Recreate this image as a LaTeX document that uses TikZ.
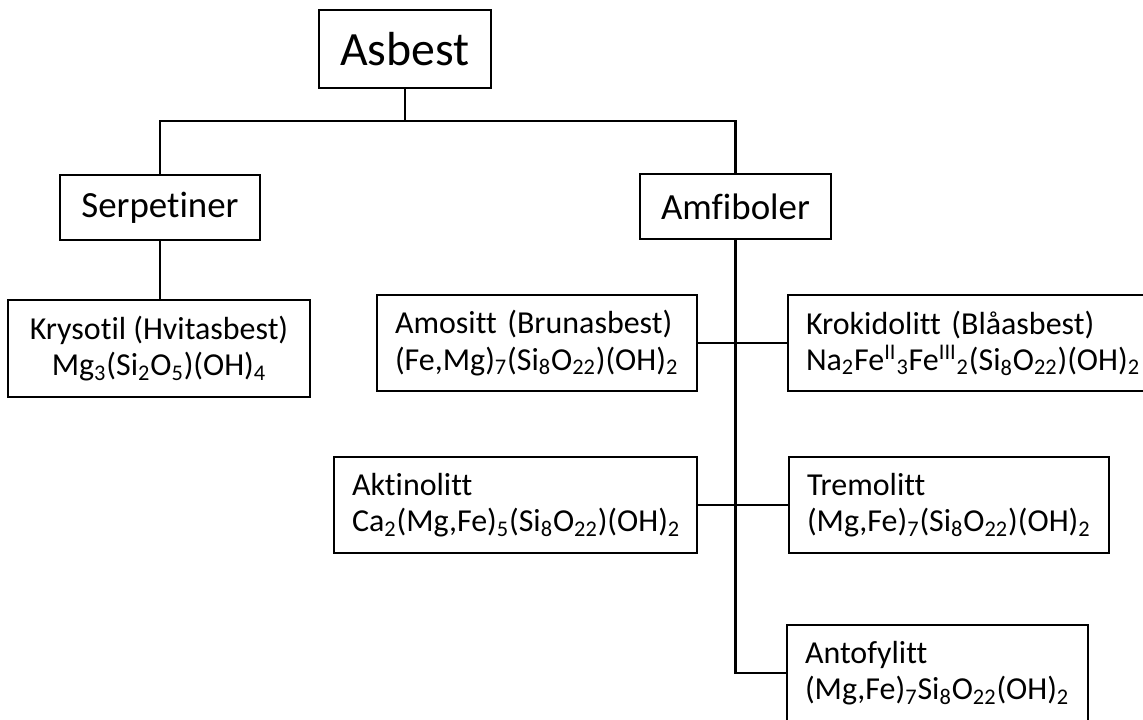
\documentclass[tikz,border=0pt]{standalone}
\usepackage{fontspec}
\setmainfont{Carlito}[Ligatures=NoCommon]
\tikzset{
  mbox/.style={draw, line width=1.2pt, inner xsep=0.36cm, inner ysep=0pt, font=\fontsize{18.2pt}{20.6pt}\selectfont},
  leftbox/.style={mbox, minimum height=1.92cm, text width=#1, align=left},
  link/.style={line width=1.2pt}
}
\begin{document}
\begin{tikzpicture}[x=0.02cm, y=-0.02cm]
            \useasboundingbox (0,0) rectangle (1143,720);

            \node[mbox, minimum width=3.44cm, minimum height=1.56cm, font=\fontsize{27.2pt}{30pt}\selectfont] (asbest) at (405,49) {Asbest};
            \node[mbox, minimum width=4.0cm, minimum height=1.3cm, font=\fontsize{21pt}{24pt}\selectfont] (serp) at (160,207.5) {Serpetiner};
            \node[mbox, minimum width=3.82cm, minimum height=1.3cm, font=\fontsize{21pt}{24pt}\selectfont] (amfi) at (735.5,206.5) {Amfiboler};

            \node[mbox, minimum width=6.04cm, minimum height=1.94cm, align=center] (kryso) at (159,348.5)
                {Krysotil (Hvitasbest)\\Mg\textsubscript{3}(Si\textsubscript{2}O\textsubscript{5})(OH)\textsubscript{4}};
            \node[leftbox=5.68cm] (amos) at (537,343)
                {Amositt (Brunasbest)\\(Fe,Mg)\textsubscript{7}(Si\textsubscript{8}O\textsubscript{22})(OH)\textsubscript{2}};
            \node[leftbox=6.52cm] (krok) at (969,343)
                {Krokidolitt (Blåasbest)\\Na\textsubscript{2}Fe\textsuperscript{II}\textsubscript{3}Fe\textsuperscript{III}\textsubscript{2}(Si\textsubscript{8}O\textsubscript{22})(OH)\textsubscript{2}};
            \node[leftbox=6.54cm] (akti) at (515.5,505)
                {Aktinolitt\\Ca\textsubscript{2}(Mg,Fe)\textsubscript{5}(Si\textsubscript{8}O\textsubscript{22})(OH)\textsubscript{2}};
            \node[leftbox=5.68cm] (trem) at (949,505)
                {Tremolitt\\(Mg,Fe)\textsubscript{7}(Si\textsubscript{8}O\textsubscript{22})(OH)\textsubscript{2}};
            \node[leftbox=5.3cm] (anto) at (937.5,673)
                {Antofylitt\\(Mg,Fe)\textsubscript{7}Si\textsubscript{8}O\textsubscript{22}(OH)\textsubscript{2}};

            \draw[link] (asbest.south) -- ++(0,32) -| (serp.north);
            \draw[link] (asbest.south) -- ++(0,32) -| (amfi.north);
            \draw[link] (serp.south) -- (serp.south |- kryso.north);
            \draw[link] (amfi.south) |- (anto.west);
            \draw[link] (amos.east) -- (krok.west);
            \draw[link] (akti.east) -- (trem.west);
        \end{tikzpicture}
\end{document}
